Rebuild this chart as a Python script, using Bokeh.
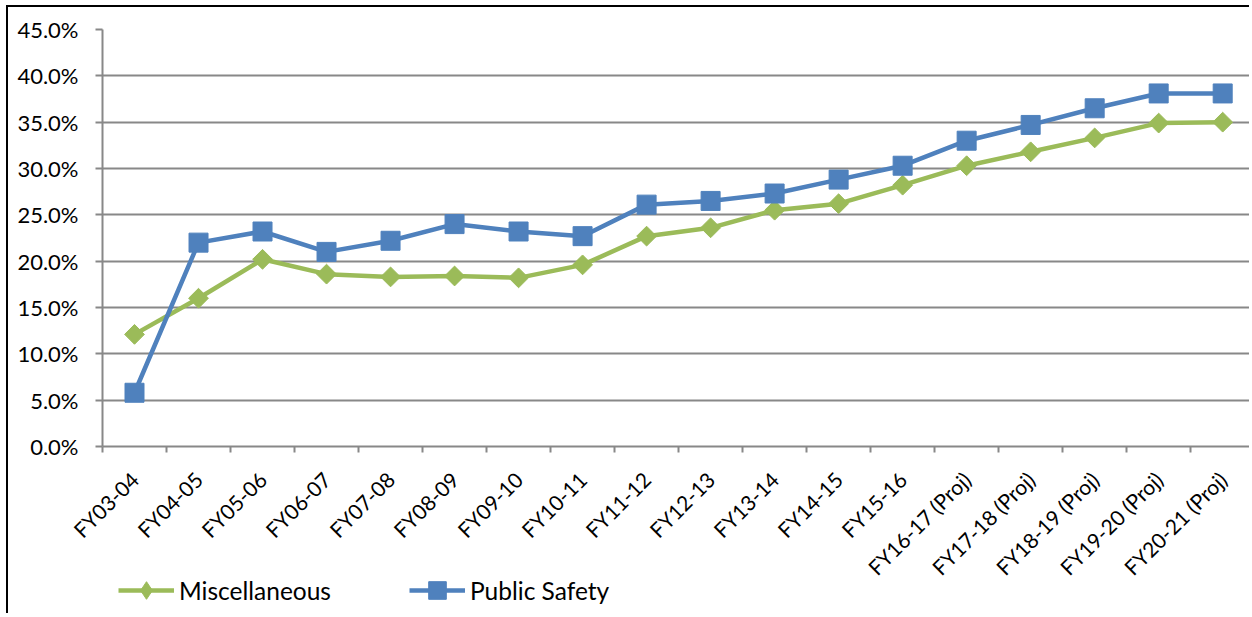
import math
from bokeh.plotting import figure
from bokeh.layouts import column
from bokeh.models import Range1d, FixedTicker, PrintfTickFormatter, Legend, LegendItem
from bokeh.embed import file_html
from bokeh.resources import INLINE

categories = ["FY03-04", "FY04-05", "FY05-06", "FY06-07", "FY07-08", "FY08-09",
              "FY09-10", "FY10-11", "FY11-12", "FY12-13", "FY13-14", "FY14-15",
              "FY15-16", "FY16-17 (Proj)", "FY17-18 (Proj)", "FY18-19 (Proj)",
              "FY19-20 (Proj)", "FY20-21 (Proj)"]
miscellaneous = [12.1, 16.0, 20.2, 18.6, 18.3, 18.4, 18.2, 19.6, 22.7, 23.6,
                 25.5, 26.2, 28.2, 30.3, 31.8, 33.3, 34.9, 35.0]
public_safety = [5.8, 22.0, 23.2, 21.0, 22.2, 24.0, 23.2, 22.7, 26.1, 26.5,
                 27.3, 28.8, 30.3, 33.0, 34.7, 36.5, 38.1, 38.1]
y_ticks = [0, 5, 10, 15, 20, 25, 30, 35, 40, 45]
series_names = ["Miscellaneous", "Public Safety"]

FONT = "Lato"
GREEN = "#9BBB59"
BLUE = "#4F81BD"
GRID = "#888888"

x = list(range(len(categories)))

p1 = figure(width=1243, height=584, output_backend="svg", toolbar_location=None,
            x_range=Range1d(-0.5, 17.45), y_range=Range1d(0, 45),
            min_border_left=94, min_border_top=22, min_border_right=0,
            min_border_bottom=145)
p1.styles = {"border-left": "2px solid black", "border-top": "2px solid black",
             "margin-left": "6px", "margin-top": "5px"}
p1.outline_line_color = None
p1.background_fill_color = "white"
p1.border_fill_color = "white"

# x axis
xa = p1.xaxis[0]
xa.ticker = FixedTicker(ticks=x, minor_ticks=[i - 0.5 for i in range(len(categories) + 1)])
xa.major_label_overrides = {i: c for i, c in enumerate(categories)}
xa.major_label_orientation = math.pi / 4
xa.major_tick_out = 0
xa.major_tick_in = 0
xa.minor_tick_out = 6
xa.minor_tick_in = 0
xa.minor_tick_line_color = GRID
xa.minor_tick_line_width = 2
xa.axis_line_color = GRID
xa.axis_line_width = 2
xa.major_label_text_font = FONT
xa.major_label_text_font_size = "21px"
xa.major_label_text_color = "black"
xa.major_label_standoff = 23

# y axis
ya = p1.yaxis[0]
ya.ticker = FixedTicker(ticks=y_ticks)
ya.formatter = PrintfTickFormatter(format="%.1f%%")
ya.major_tick_out = 7
ya.major_tick_in = 0
ya.major_tick_line_color = GRID
ya.major_tick_line_width = 2
ya.minor_tick_line_color = None
ya.axis_line_color = GRID
ya.axis_line_width = 2
ya.major_label_text_font = FONT
ya.major_label_text_font_size = "22px"
ya.major_label_text_color = "black"
ya.major_label_standoff = 17

p1.xgrid.grid_line_color = None
p1.ygrid.ticker = FixedTicker(ticks=y_ticks)
p1.ygrid.grid_line_color = GRID
p1.ygrid.grid_line_width = 2

p1.line(x, miscellaneous, line_color=GREEN, line_width=4.5)
p1.scatter(x, miscellaneous, marker="square", angle=math.pi / 4, size=14,
           fill_color=GREEN, line_color=GREEN)
p1.line(x, public_safety, line_color=BLUE, line_width=4.5)
p1.scatter(x, public_safety, marker="square", size=19,
           fill_color=BLUE, line_color=BLUE)

# legend strip below the chart (its own series copies lie outside its view)
p2 = figure(width=1243, height=50, output_backend="svg", toolbar_location=None,
            x_range=Range1d(0, 1), y_range=Range1d(-2, -1),
            x_axis_type=None, y_axis_type=None, min_border=0)
p2.styles = {"border-left": "2px solid black", "margin-left": "6px",
             "margin-top": "-26px"}
p2.outline_line_color = None
p2.xgrid.visible = False
p2.ygrid.visible = False
p2.background_fill_alpha = 0
p2.border_fill_alpha = 0

kl1 = p2.line(x, miscellaneous, line_color=GREEN, line_width=4.5)
km1 = p2.scatter(x, miscellaneous, marker="diamond", size=14,
                 fill_color=GREEN, line_color=GREEN)
kl2 = p2.line(x, public_safety, line_color=BLUE, line_width=4.5)
km2 = p2.scatter(x, public_safety, marker="square", size=19,
                 fill_color=BLUE, line_color=BLUE)

legend = Legend(items=[LegendItem(label=series_names[0], renderers=[kl1, km1]),
                       LegendItem(label=series_names[1], renderers=[kl2, km2])],
                orientation="horizontal", location=(16, 1),
                glyph_width=56, glyph_height=44, label_standoff=5, spacing=78,
                padding=0, margin=0, border_line_color=None,
                background_fill_alpha=0,
                label_text_font=FONT, label_text_font_size="24.5px",
                label_text_color="black")
p2.add_layout(legend, "center")

p = column(p1, p2)
open("out.html", "w").write(file_html(p, INLINE))
